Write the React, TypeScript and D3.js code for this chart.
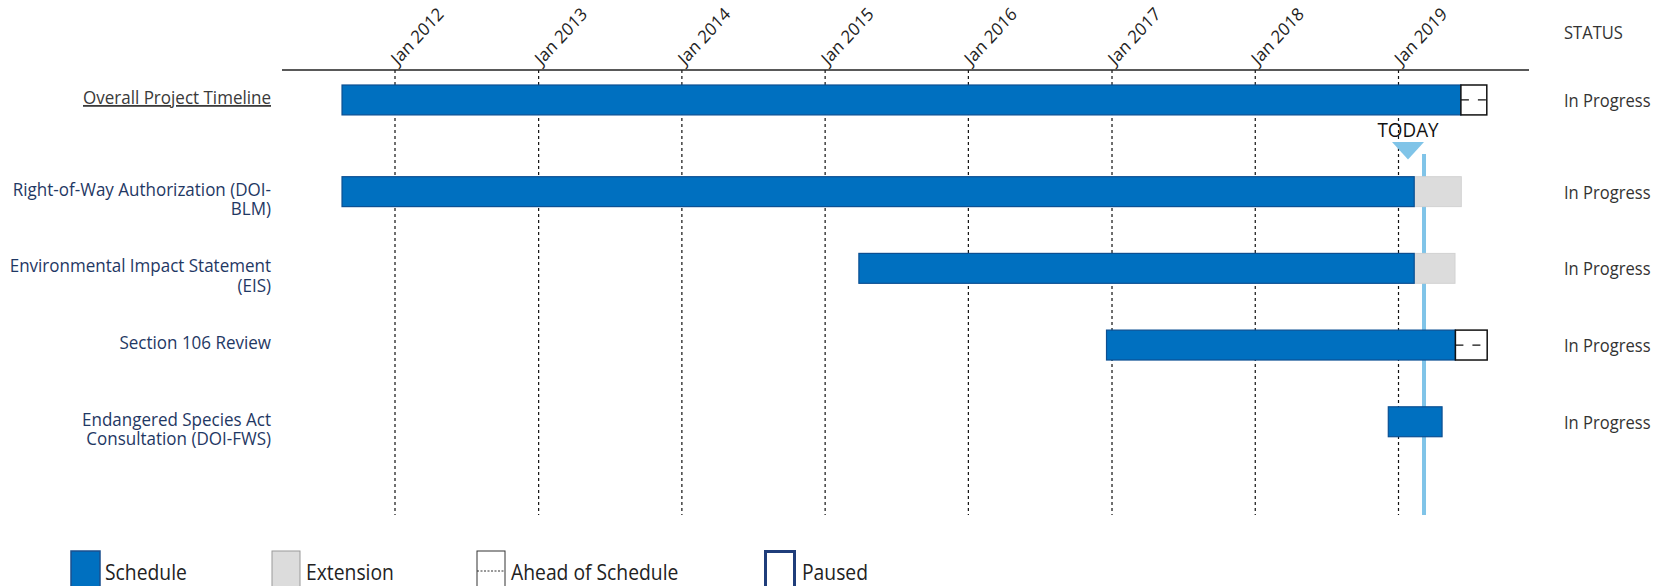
import React from "react";
import * as d3 from "d3";

const taskLines = [
  ["Overall Project Timeline"],
  ["Right-of-Way Authorization (DOI-", "BLM)"],
  ["Environmental Impact Statement", "(EIS)"],
  ["Section 106 Review"],
  ["Endangered Species Act", "Consultation (DOI-FWS)"],
];
const scheduleStart = ["2011-08-19", "2011-08-19", "2015-03-28", "2016-12-18", "2018-12-06"];
const scheduleEnd = ["2019-06-09", "2019-02-10", "2019-02-10", "2019-05-26", "2019-04-22"];
const extensionEnd = [null, "2019-06-10", "2019-05-25", null, null];
const aheadEnd = ["2019-08-14", null, null, "2019-08-15", null];
const statuses = ["In Progress", "In Progress", "In Progress", "In Progress", "In Progress"];
const tickDates = ["2012-01-01", "2013-01-01", "2014-01-01", "2015-01-01", "2016-01-01", "2017-01-01", "2018-01-01", "2019-01-01"];
const todayDate = "2019-03-07";
const legendLabels = ["Schedule", "Extension", "Ahead of Schedule", "Paused"];

const parse = d3.utcParse("%Y-%m-%d");
const fmt = d3.utcFormat("%b %Y");
const FONT = "'Open Sans', 'Noto Sans', sans-serif";
const SQ = 0.92; // the source text is slightly narrow

const App: React.FC = () => {
  const width = 1665;
  const height = 586;
  const axisY = 70;
  const gridBottom = 515;
  const todayGap = 15;

  const x = d3
    .scaleTime()
    .domain([parse("2012-01-01")!, parse("2019-01-01")!])
    .range([395, 1398.5]);

  const rows = taskLines.map((_, i) => String(i));
  const y = d3
    .scaleBand()
    .domain(rows)
    .range([85, 85 + 76.7 * (5 - 0.61)])
    .paddingInner(0.61)
    .paddingOuter(0);
  const bw = y.bandwidth();
  const rowY = (i: number) => (y(String(i)) as number) + (i > 0 ? todayGap : 0);

  const todayX = x(parse(todayDate)!);
  const markX = todayX - 16;

  const legendX = [71, 272, 477, 764];

  const txt = (
    tx: number,
    ty: number,
    s: string,
    size: number,
    fill: string,
    anchor: "start" | "end" | "middle" = "start",
    sq = SQ
  ) => (
    <text
      transform={`translate(${tx},${ty}) scale(${sq},1)`}
      fontSize={size}
      fill={fill}
      textAnchor={anchor}
      fontFamily={FONT}
    >
      {s}
    </text>
  );

  return (
    <svg
      width={width}
      height={height}
      style={{ position: "absolute", left: 0, top: 0, background: "#fff" }}
    >
      {/* dashed year gridlines */}
      {tickDates.map((d) => (
        <line
          key={"g" + d}
          x1={x(parse(d)!)}
          x2={x(parse(d)!)}
          y1={axisY}
          y2={gridBottom}
          stroke="#111"
          strokeWidth={1.2}
          strokeDasharray="3,3"
        />
      ))}
      {/* axis line */}
      <line x1={282} x2={1529} y1={axisY} y2={axisY} stroke="#222" strokeWidth={1.5} />
      {/* tick labels */}
      {tickDates.map((d) => (
        <text
          key={"t" + d}
          transform={`translate(${x(parse(d)!) + 3},${axisY - 4}) scale(${SQ},1) rotate(-45)`}
          fontSize={18}
          fill="#222"
          fontFamily={FONT}
        >
          {fmt(parse(d)!)}
        </text>
      ))}
      {txt(1564, 39, "STATUS", 18, "#333")}

      {/* today line */}
      <line x1={todayX} x2={todayX} y1={154} y2={gridBottom} stroke="#80c4e8" strokeWidth={4} />

      {/* bars */}
      {taskLines.map((lines, i) => {
        const top = rowY(i);
        const s = x(parse(scheduleStart[i])!);
        const e = x(parse(scheduleEnd[i])!);
        const cy = top + bw / 2;
        return (
          <g key={"r" + i}>
            {extensionEnd[i] && (
              <rect
                x={e}
                y={top}
                width={x(parse(extensionEnd[i]!)!) - e}
                height={bw}
                fill="#dcdcdc"
                stroke="#d2d2d2"
                strokeWidth={1}
              />
            )}
            <rect x={s} y={top} width={e - s} height={bw} fill="#0070c0" stroke="#0b4f92" strokeWidth={1.2} />
            {aheadEnd[i] && (
              <g>
                <rect
                  x={e}
                  y={top}
                  width={x(parse(aheadEnd[i]!)!) - e}
                  height={bw}
                  fill="#fff"
                  stroke="#111"
                  strokeWidth={1.5}
                />
                <line
                  x1={e}
                  x2={x(parse(aheadEnd[i]!)!)}
                  y1={cy}
                  y2={cy}
                  stroke="#111"
                  strokeWidth={1.2}
                  strokeDasharray="8,9"
                />
              </g>
            )}
            <text
              transform={`translate(271,${cy + 4}) scale(0.945,1)`}
              fontSize={18}
              fill={i === 0 ? "#3a3a3a" : "#1f3864"}
              textAnchor="end"
              fontFamily={FONT}
              style={i === 0 ? { textDecoration: "underline" } : {}}
            >
              {lines.map((l, j) => (
                <tspan key={j} x={0} dy={j === 0 ? 0 : 19.5}>
                  {l}
                </tspan>
              ))}
            </text>
            {txt(1564, cy + 7, statuses[i], 18, "#333")}
          </g>
        );
      })}

      {/* today marker */}
      <path
        d={`M${markX - 16},142 L${markX + 16},142 L${markX},159.5 Z`}
        fill="#80c4e8"
      />
      {txt(markX, 137, "TODAY", 20.5, "#111", "middle")}

      {/* legend */}
      {legendLabels.map((lab, i) => {
        const lx = legendX[i];
        return (
          <g key={"l" + lab}>
            {i === 0 && <rect x={lx} y={551} width={29} height={40} fill="#0070c0" stroke="#1a4f8f" strokeWidth={1.5} />}
            {i === 1 && <rect x={lx} y={551} width={28} height={40} fill="#dcdcdc" stroke="#9a9a9a" strokeWidth={1} />}
            {i === 2 && (
              <g>
                <rect x={lx} y={551} width={28} height={40} fill="#fff" stroke="#333" strokeWidth={1} />
                <line x1={lx} x2={lx + 28} y1={571} y2={571} stroke="#333" strokeWidth={1} strokeDasharray="2,1.5" />
              </g>
            )}
            {i === 3 && <rect x={lx + 1.5} y={551.5} width={29} height={40} fill="#fff" stroke="#1f3d7a" strokeWidth={3} />}
            {txt(lx + (i === 3 ? 38 : 34), 580, lab, 21, "#222")}
          </g>
        );
      })}
    </svg>
  );
};

export default App;
